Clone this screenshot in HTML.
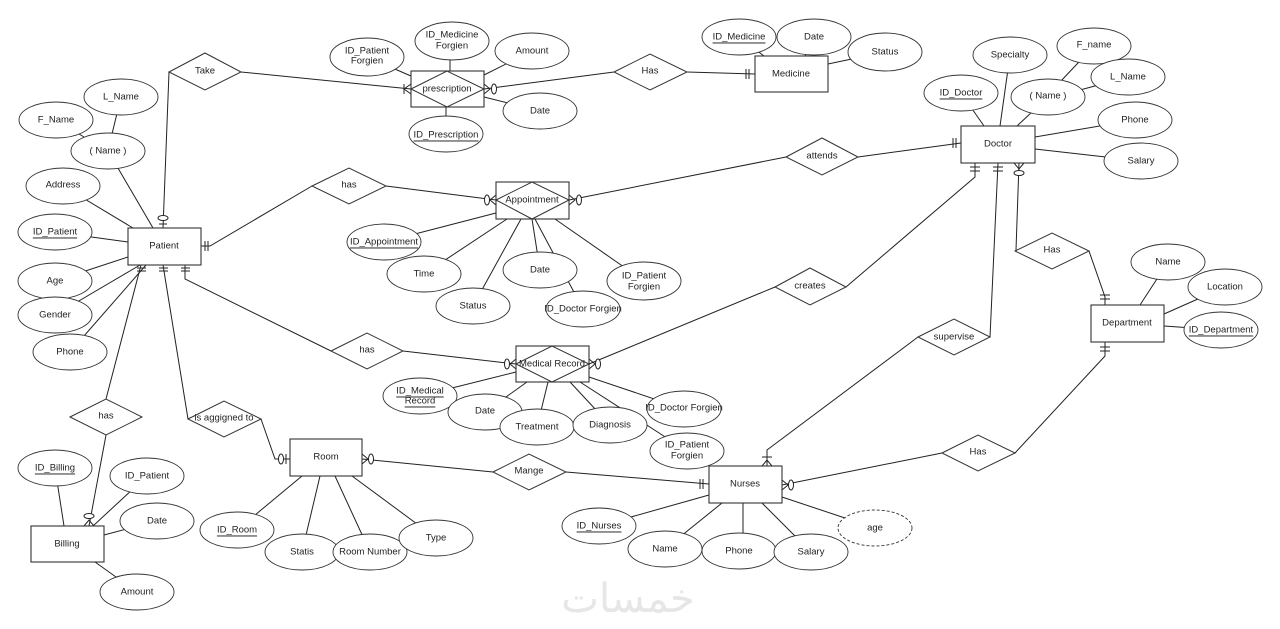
<!DOCTYPE html>
<html><head><meta charset="utf-8"><style>
html,body{margin:0;padding:0;background:#fff;}
svg{display:block}
text{font-family:"Liberation Sans",sans-serif;font-size:9.5px;fill:#222;text-anchor:middle;dominant-baseline:central}
.l{stroke:#222;stroke-width:1;fill:none}
.e{fill:#fff;stroke:#333;stroke-width:0.9}
.r{fill:#fff;stroke:#333;stroke-width:1.1}
.d{fill:#fff;stroke:#333;stroke-width:1}
</style></head><body>
<svg width="1280" height="629" viewBox="0 0 1280 629" xmlns="http://www.w3.org/2000/svg">
<text x="628" y="599" style="font-family:'DejaVu Sans',sans-serif;font-size:40px;fill:#e6e6e6">خمسات</text>

<g class="l">
<line x1="108" y1="151" x2="153" y2="228"/><line x1="121" y1="97" x2="112" y2="134"/><line x1="56" y1="120" x2="84" y2="137"/>
<line x1="63" y1="186" x2="133" y2="228"/><line x1="55" y1="232" x2="128" y2="242"/><line x1="55" y1="281" x2="128" y2="257"/>
<line x1="55" y1="315" x2="140" y2="265"/><line x1="70" y1="352" x2="146" y2="265"/>
<line x1="367" y1="57" x2="411" y2="76"/><line x1="450" y1="41" x2="450" y2="71"/><line x1="532" y1="51" x2="484" y2="75"/>
<line x1="540" y1="111" x2="484" y2="97"/><line x1="446" y1="134" x2="446" y2="107"/>
<line x1="739" y1="37" x2="764" y2="56"/><line x1="814" y1="37" x2="805" y2="56"/><line x1="885" y1="52" x2="828" y2="64"/>
<line x1="384" y1="242" x2="496" y2="213"/><line x1="424" y1="274" x2="507" y2="219"/><line x1="473" y1="306" x2="521" y2="219"/>
<line x1="540" y1="270" x2="532" y2="219"/><line x1="583" y1="309" x2="535" y2="219"/><line x1="644" y1="281" x2="555" y2="219"/>
<line x1="961" y1="93" x2="984" y2="126"/><line x1="1010" y1="55" x2="1000" y2="126"/><line x1="1048" y1="97" x2="1017" y2="126"/>
<line x1="1094" y1="46" x2="1060" y2="82"/><line x1="1128" y1="77" x2="1080" y2="90"/>
<line x1="1135" y1="120" x2="1035" y2="137"/><line x1="1141" y1="161" x2="1035" y2="149"/>
<line x1="1168" y1="262" x2="1140" y2="305"/><line x1="1225" y1="287" x2="1164" y2="314"/><line x1="1221" y1="330" x2="1164" y2="326"/>
<line x1="420" y1="396" x2="516" y2="372"/><line x1="485" y1="412" x2="527" y2="382"/><line x1="537" y1="427" x2="548" y2="382"/>
<line x1="610" y1="425" x2="570" y2="382"/><line x1="684" y1="409" x2="589" y2="377"/><line x1="687" y1="451" x2="580" y2="382"/>
<line x1="237" y1="530" x2="302" y2="476"/><line x1="302" y1="552" x2="320" y2="476"/><line x1="370" y1="552" x2="335" y2="476"/><line x1="436" y1="538" x2="352" y2="476"/>
<line x1="599" y1="526" x2="709" y2="495"/><line x1="665" y1="549" x2="722" y2="503"/><line x1="743" y1="551" x2="743" y2="503"/>
<line x1="811" y1="552" x2="762" y2="503"/><line x1="875" y1="528" x2="782" y2="497"/>
<line x1="55" y1="468" x2="64" y2="526"/><line x1="147" y1="476" x2="93" y2="526"/><line x1="157" y1="521" x2="104" y2="535"/><line x1="137" y1="592" x2="95" y2="562"/>

<polyline points="163,228 169,72"/>
<line x1="241" y1="72" x2="411" y2="89"/>
<line x1="484" y1="89" x2="614" y2="72"/>
<line x1="687" y1="72" x2="755" y2="74"/>
<polyline points="200,246 210,246 312,186"/>
<line x1="386" y1="186" x2="496" y2="200"/>
<line x1="569" y1="200" x2="786" y2="157"/>
<line x1="858" y1="157" x2="961" y2="143"/>
<polyline points="185,265 185,279 331,351"/>
<line x1="403" y1="351" x2="516" y2="364"/>
<line x1="589" y1="364" x2="775" y2="287"/>
<polyline points="846,287 975,177 975,163"/>
<polyline points="998,163 990,337"/>
<polyline points="918,337 767,450 767,466"/>
<polyline points="1019,163 1016,250"/>
<polyline points="1089,251 1105,297 1105,305"/>
<polyline points="1105,342 1105,356 1015,453"/>
<line x1="942" y1="453" x2="782" y2="485"/>
<polyline points="141,265 106,399"/>
<polyline points="106,435 89,526"/>
<polyline points="163,265 188,419"/>
<polyline points="261,419 275,459 290,459"/>
<line x1="362" y1="459" x2="493" y2="472"/>
<line x1="566" y1="472" x2="709" y2="484"/>

<line x1="159" y1="224" x2="167" y2="224"/><ellipse cx="163" cy="218" rx="5" ry="2.5" fill="#fff"/>
<line x1="205" y1="241" x2="205" y2="251"/><line x1="208" y1="241" x2="208" y2="251"/>
<line x1="137" y1="268" x2="146" y2="268"/><line x1="137" y1="271" x2="146" y2="271"/>
<line x1="159" y1="268" x2="168" y2="268"/><line x1="159" y1="271" x2="168" y2="271"/>
<line x1="181" y1="268" x2="190" y2="268"/><line x1="181" y1="271" x2="190" y2="271"/>
<line x1="404" y1="84" x2="404" y2="94"/><polyline points="411,84 404,89 411,94"/>
<polyline points="484,84 490,89 484,94"/><ellipse cx="494" cy="89" rx="2.5" ry="5" fill="#fff"/>
<line x1="746" y1="69" x2="746" y2="79"/><line x1="749" y1="69" x2="749" y2="79"/>
<polyline points="496,195 490,200 496,205"/><ellipse cx="487" cy="200" rx="2.5" ry="5" fill="#fff"/>
<polyline points="569,195 575,200 569,205"/><ellipse cx="579" cy="200" rx="2.5" ry="5" fill="#fff"/>
<line x1="953" y1="138" x2="953" y2="148"/><line x1="956" y1="138" x2="956" y2="148"/>
<line x1="970" y1="167" x2="980" y2="167"/><line x1="970" y1="171" x2="980" y2="171"/>
<line x1="993" y1="167" x2="1003" y2="167"/><line x1="993" y1="171" x2="1003" y2="171"/>
<polyline points="1014,163 1019,169 1024,163"/><ellipse cx="1019" cy="173" rx="5" ry="2.5" fill="#fff"/>
<line x1="1100" y1="295" x2="1110" y2="295"/><line x1="1100" y1="299" x2="1110" y2="299"/>
<line x1="1100" y1="347" x2="1110" y2="347"/><line x1="1100" y1="351" x2="1110" y2="351"/>
<polyline points="516,359 510,364 516,369"/><ellipse cx="507" cy="364" rx="2.5" ry="5" fill="#fff"/>
<polyline points="589,359 595,364 589,369"/><ellipse cx="598" cy="364" rx="2.5" ry="5" fill="#fff"/>
<line x1="286" y1="454" x2="286" y2="464"/><ellipse cx="281" cy="459" rx="2.5" ry="5" fill="#fff"/>
<polyline points="362,454 368,459 362,464"/><ellipse cx="371" cy="459" rx="2.5" ry="5" fill="#fff"/>
<line x1="700" y1="479" x2="700" y2="489"/><line x1="703" y1="479" x2="703" y2="489"/>
<polyline points="782,480 788,485 782,490"/><ellipse cx="791" cy="485" rx="2.5" ry="5" fill="#fff"/>
<line x1="762" y1="457" x2="772" y2="457"/><polyline points="762,466 767,460 772,466"/>
<polyline points="84,526 89,520 94,526"/><ellipse cx="89" cy="516" rx="5" ry="2.5" fill="#fff"/>
</g>

<rect class="r" x="128" y="228" width="73" height="37"/><text x="164" y="246">Patient</text>
<rect class="r" x="755" y="56" width="73" height="36"/><text x="791" y="74">Medicine</text>
<rect class="r" x="961" y="126" width="74" height="37"/><text x="998" y="144">Doctor</text>
<rect class="r" x="1091" y="305" width="73" height="37"/><text x="1127" y="323">Department</text>
<rect class="r" x="290" y="439" width="72" height="37"/><text x="326" y="457">Room</text>
<rect class="r" x="709" y="466" width="73" height="37"/><text x="745" y="484">Nurses</text>
<rect class="r" x="31" y="526" width="73" height="36"/><text x="67" y="544">Billing</text>

<rect class="r" x="411" y="71" width="73" height="36"/><polygon class="d" points="411,89 447,71 484,89 447,107"/><text x="447" y="89">prescription</text>
<rect class="r" x="496" y="182" width="73" height="37"/><polygon class="d" points="496,200 532,182 569,200 532,219"/><text x="532" y="200">Appointment</text>
<rect class="r" x="516" y="346" width="73" height="36"/><polygon class="d" points="516,364 552,346 589,364 552,382"/><text x="552" y="364">Medical Record</text>

<g>
<polygon class="d" points="169,72 205,53 241,72 205,90"/><text x="205" y="71">Take</text>
<polygon class="d" points="614,72 650,54 687,72 650,90"/><text x="650" y="71">Has</text>
<polygon class="d" points="312,186 349,168 386,186 349,204"/><text x="349" y="185">has</text>
<polygon class="d" points="786,157 822,138 858,157 822,175"/><text x="822" y="156">attends</text>
<polygon class="d" points="1015,251 1052,233 1089,251 1052,269"/><text x="1052" y="250">Has</text>
<polygon class="d" points="775,287 810,268 846,287 810,305"/><text x="810" y="286">creates</text>
<polygon class="d" points="918,337 954,319 990,337 954,355"/><text x="954" y="337">supervise</text>
<polygon class="d" points="331,351 367,333 403,351 367,369"/><text x="367" y="350">has</text>
<polygon class="d" points="70,417 106,399 142,417 106,435"/><text x="106" y="416">has</text>
<polygon class="d" points="188,419 224,401 261,419 224,437"/><text x="224" y="418">is aggigned to</text>
<polygon class="d" points="493,472 529,454 566,472 529,490"/><text x="529" y="471">Mange</text>
<polygon class="d" points="942,453 978,435 1015,453 978,471"/><text x="978" y="452">Has</text>
</g>

<g>
<ellipse class="e" cx="121" cy="97" rx="37" ry="18"/><text x="121" y="97">L_Name</text>
<ellipse class="e" cx="56" cy="120" rx="37" ry="18"/><text x="56" y="120">F_Name</text>
<ellipse class="e" cx="108" cy="151" rx="37" ry="18"/><text x="108" y="151">( Name )</text>
<ellipse class="e" cx="63" cy="186" rx="37" ry="18"/><text x="63" y="185">Address</text>
<ellipse class="e" cx="55" cy="232" rx="37" ry="18"/><text x="55" y="232" text-decoration="underline">ID_Patient</text>
<ellipse class="e" cx="55" cy="281" rx="37" ry="18"/><text x="55" y="281">Age</text>
<ellipse class="e" cx="55" cy="315" rx="37" ry="18"/><text x="55" y="315">Gender</text>
<ellipse class="e" cx="70" cy="352" rx="37" ry="18"/><text x="70" y="352">Phone</text>

<ellipse class="e" cx="367" cy="57" rx="37" ry="19"/><text x="367" y="51">ID_Patient</text><text x="367" y="61">Forgien</text>
<ellipse class="e" cx="452" cy="41" rx="37" ry="19"/><text x="452" y="35">ID_Medicine</text><text x="452" y="46">Forgien</text>
<ellipse class="e" cx="532" cy="51" rx="37" ry="18"/><text x="532" y="51">Amount</text>
<ellipse class="e" cx="540" cy="111" rx="37" ry="18"/><text x="540" y="111">Date</text>
<ellipse class="e" cx="446" cy="134" rx="37" ry="18"/><text x="446" y="135" text-decoration="underline">ID_Prescription</text>

<ellipse class="e" cx="739" cy="37" rx="37" ry="18"/><text x="739" y="37" text-decoration="underline">ID_Medicine</text>
<ellipse class="e" cx="814" cy="37" rx="37" ry="18"/><text x="814" y="37">Date</text>
<ellipse class="e" cx="885" cy="52" rx="37" ry="19"/><text x="885" y="52">Status</text>

<ellipse class="e" cx="384" cy="242" rx="37" ry="18"/><text x="384" y="242" text-decoration="underline">ID_Appointment</text>
<ellipse class="e" cx="424" cy="274" rx="37" ry="18"/><text x="424" y="274">Time</text>
<ellipse class="e" cx="540" cy="270" rx="37" ry="18"/><text x="540" y="270">Date</text>
<ellipse class="e" cx="473" cy="306" rx="37" ry="18"/><text x="473" y="306">Status</text>
<ellipse class="e" cx="583" cy="309" rx="37" ry="18"/><text x="583" y="309">ID_Doctor Forgien</text>
<ellipse class="e" cx="644" cy="281" rx="37" ry="19"/><text x="644" y="276">ID_Patient</text><text x="644" y="287">Forgien</text>

<ellipse class="e" cx="961" cy="93" rx="37" ry="18"/><text x="961" y="93" text-decoration="underline">ID_Doctor</text>
<ellipse class="e" cx="1010" cy="55" rx="37" ry="18"/><text x="1010" y="55">Specialty</text>
<ellipse class="e" cx="1048" cy="97" rx="37" ry="18"/><text x="1048" y="96">( Name )</text>
<ellipse class="e" cx="1094" cy="46" rx="37" ry="18"/><text x="1094" y="45">F_name</text>
<ellipse class="e" cx="1128" cy="77" rx="37" ry="18"/><text x="1128" y="77">L_Name</text>
<ellipse class="e" cx="1135" cy="120" rx="37" ry="18"/><text x="1135" y="120">Phone</text>
<ellipse class="e" cx="1141" cy="161" rx="37" ry="18"/><text x="1141" y="161">Salary</text>

<ellipse class="e" cx="1168" cy="262" rx="37" ry="18"/><text x="1168" y="262">Name</text>
<ellipse class="e" cx="1225" cy="287" rx="37" ry="18"/><text x="1225" y="287">Location</text>
<ellipse class="e" cx="1221" cy="330" rx="37" ry="18"/><text x="1221" y="330" text-decoration="underline">ID_Department</text>

<ellipse class="e" cx="420" cy="396" rx="37" ry="18"/><text x="420" y="391" text-decoration="underline">ID_Medical</text><text x="420" y="401" text-decoration="underline">Record</text>
<ellipse class="e" cx="485" cy="412" rx="37" ry="18"/><text x="485" y="411">Date</text>
<ellipse class="e" cx="537" cy="427" rx="37" ry="18"/><text x="537" y="427">Treatment</text>
<ellipse class="e" cx="610" cy="425" rx="37" ry="18"/><text x="610" y="425">Diagnosis</text>
<ellipse class="e" cx="684" cy="409" rx="37" ry="18"/><text x="684" y="408">ID_Doctor Forgien</text>
<ellipse class="e" cx="687" cy="451" rx="37" ry="18"/><text x="687" y="445">ID_Patient</text><text x="687" y="456">Forgien</text>

<ellipse class="e" cx="237" cy="530" rx="37" ry="18"/><text x="237" y="530" text-decoration="underline">ID_Room</text>
<ellipse class="e" cx="302" cy="552" rx="37" ry="18"/><text x="302" y="552">Statis</text>
<ellipse class="e" cx="370" cy="552" rx="37" ry="18"/><text x="370" y="552">Room Number</text>
<ellipse class="e" cx="436" cy="538" rx="37" ry="18"/><text x="436" y="538">Type</text>

<ellipse class="e" cx="599" cy="526" rx="37" ry="18"/><text x="599" y="526" text-decoration="underline">ID_Nurses</text>
<ellipse class="e" cx="665" cy="549" rx="37" ry="18"/><text x="665" y="549">Name</text>
<ellipse class="e" cx="739" cy="551" rx="37" ry="18"/><text x="739" y="551">Phone</text>
<ellipse class="e" cx="811" cy="552" rx="37" ry="18"/><text x="811" y="552">Salary</text>
<ellipse class="e" cx="875" cy="528" rx="37" ry="18" style="stroke-dasharray:3,2"/><text x="875" y="528">age</text>

<ellipse class="e" cx="55" cy="468" rx="37" ry="18"/><text x="55" y="468" text-decoration="underline">ID_Billing</text>
<ellipse class="e" cx="147" cy="476" rx="37" ry="18"/><text x="147" y="476">ID_Patient</text>
<ellipse class="e" cx="157" cy="521" rx="37" ry="18"/><text x="157" y="521">Date</text>
<ellipse class="e" cx="137" cy="592" rx="37" ry="18"/><text x="137" y="592">Amount</text>
</g>
</svg>
</body></html>
